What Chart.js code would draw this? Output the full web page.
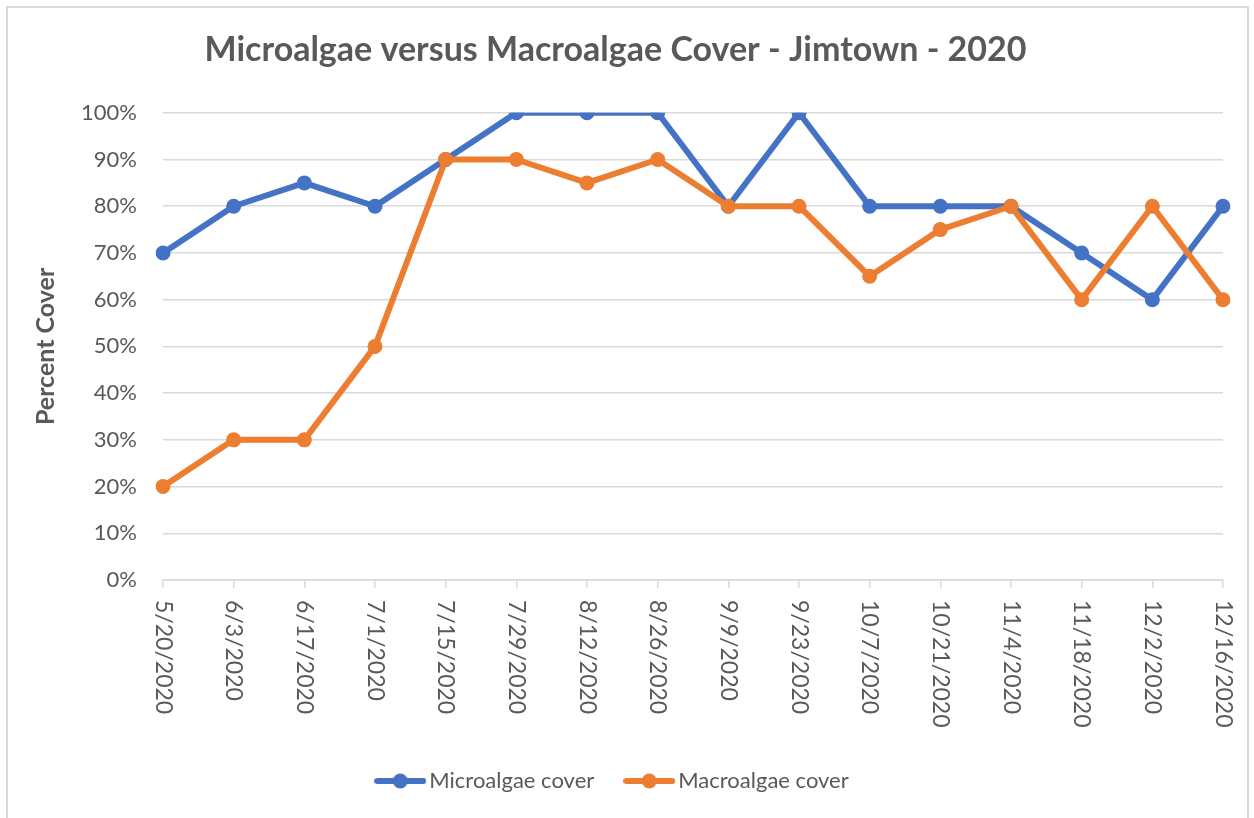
<!DOCTYPE html>
<html>
<head>
<meta charset="utf-8">
<script src="https://cdn.jsdelivr.net/npm/chart.js@4"></script>
<style>
  body { margin: 0; background: #fff; }
  #frame { position: absolute; left: 6px; top: 6px; width: 1243px; height: 830px; border: 2px solid #d9d9d9; box-sizing: border-box; }
  #wrap { position: absolute; left: 8px; top: 8px; width: 1239px; height: 810px; }
</style>
</head>
<body>
<div id="frame"></div>
<div id="wrap"><canvas id="myChart"></canvas></div>
<script>
// dates sampled every two weeks
let labelArray = ['5/20/2020', '6/3/2020', '6/17/2020', '7/1/2020', '7/15/2020', '7/29/2020', '8/12/2020', '8/26/2020', '9/9/2020', '9/23/2020', '10/7/2020', '10/21/2020', '11/4/2020', '11/18/2020', '12/2/2020', '12/16/2020'];
let microCover = [70, 80, 85, 80, 90, 100, 100, 100, 80, 100, 80, 80, 80, 70, 60, 80];
let macroCover = [20, 30, 30, 50, 90, 90, 85, 90, 80, 80, 65, 75, 80, 60, 80, 60];
let yTicks = [0, 10, 20, 30, 40, 50, 60, 70, 80, 90, 100];

const blue = '#4472c4';
const orange = '#ed7d31';
const grey = '#595959';
const gridGrey = '#d9d9d9';

// little line + dot image for the legend
function legendMarker(color) {
    const c = document.createElement('canvas');
    c.width = 52;
    c.height = 18;
    const g = c.getContext('2d');
    g.strokeStyle = color;
    g.lineWidth = 6;
    g.lineCap = 'round';
    g.beginPath();
    g.moveTo(3, 9);
    g.lineTo(49, 9);
    g.stroke();
    g.fillStyle = color;
    g.beginPath();
    g.arc(26, 9, 7.5, 0, Math.PI * 2);
    g.fill();
    return c;
}
const markers = [legendMarker(blue), legendMarker(orange)];

// x labels read top to bottom, which chart.js rotation can't do
const downLabels = {
    id: 'downLabels',
    afterDraw(chart) {
        const x = chart.scales.x;
        const ctx = chart.ctx;
        ctx.save();
        ctx.font = '23px Lato';
        ctx.fillStyle = grey;
        ctx.textAlign = 'left';
        ctx.textBaseline = 'middle';
        x.ticks.forEach((t, i) => {
            ctx.save();
            ctx.translate(x.getPixelForTick(i), x.top + 20);
            ctx.rotate(Math.PI / 2);
            ctx.fillText(labelArray[i], 0, 0);
            ctx.restore();
        });
        ctx.restore();
    }
};

const ctx = document.getElementById('myChart').getContext('2d');
const myChart = new Chart(ctx, {
    type: 'line',
    data: {
        labels: labelArray,
        datasets: [
            {
                label: 'Microalgae cover',
                data: microCover,
                borderColor: blue,
                backgroundColor: blue,
                borderWidth: 6,
                pointRadius: 7.5,
                pointBorderWidth: 0,
                pointBackgroundColor: blue,
                borderJoinStyle: 'round',
                borderCapStyle: 'round',
                order: 1,
                fill: false,
            },
            {
                label: 'Macroalgae cover',
                data: macroCover,
                borderColor: orange,
                backgroundColor: orange,
                borderWidth: 6,
                pointRadius: 7.5,
                pointBorderWidth: 0,
                pointBackgroundColor: orange,
                borderJoinStyle: 'round',
                borderCapStyle: 'round',
                order: 0,
                fill: false,
            },
        ]
    },
    options: {
        responsive: true,
        maintainAspectRatio: false,
        animation: false,
        layout: {
            padding: { top: 0, left: 0, right: 24, bottom: 16 }
        },
        plugins: {
            title: {
                display: true,
                text: 'Microalgae versus Macroalgae Cover - Jimtown - 2020',
                color: grey,
                font: { family: 'Lato', size: 34, weight: 'bold' },
                padding: { top: 22, bottom: 42 }
            },
            legend: {
                position: 'bottom',
                labels: {
                    color: grey,
                    font: { family: 'Lato', size: 22 },
                    usePointStyle: true,
                    pointStyleWidth: 36,
                    padding: 37,
                    sort: (a, b) => a.datasetIndex - b.datasetIndex,
                    generateLabels(chart) {
                        const items = Chart.defaults.plugins.legend.labels.generateLabels(chart);
                        items.forEach(it => { it.pointStyle = markers[it.datasetIndex]; });
                        return items;
                    }
                }
            },
            tooltip: { enabled: false }
        },
        scales: {
            x: {
                offset: false,
                grid: {
                    drawOnChartArea: false,
                    drawTicks: true,
                    tickLength: 8,
                    color: gridGrey,
                    lineWidth: 1.5
                },
                border: { color: gridGrey, width: 1.5 },
                ticks: { display: false },
                afterFit(scale) { scale.height = 153; }
            },
            y: {
                min: 0,
                max: 100,
                afterBuildTicks(scale) { scale.ticks = yTicks.map(v => ({ value: v })); },
                grid: { color: gridGrey, lineWidth: 1.5, drawTicks: false },
                border: { display: false },
                ticks: {
                    color: grey,
                    font: { family: 'Lato', size: 22 },
                    padding: 26,
                    callback: v => v + '%'
                },
                title: {
                    display: true,
                    text: 'Percent Cover',
                    color: grey,
                    font: { family: 'Lato', size: 25, weight: 'bold' },
                    padding: { top: 23, bottom: 0 }
                },
                afterFit(scale) { scale.width = 155; }
            }
        }
    },
    plugins: [downLabels]
});
</script>
</body>
</html>
